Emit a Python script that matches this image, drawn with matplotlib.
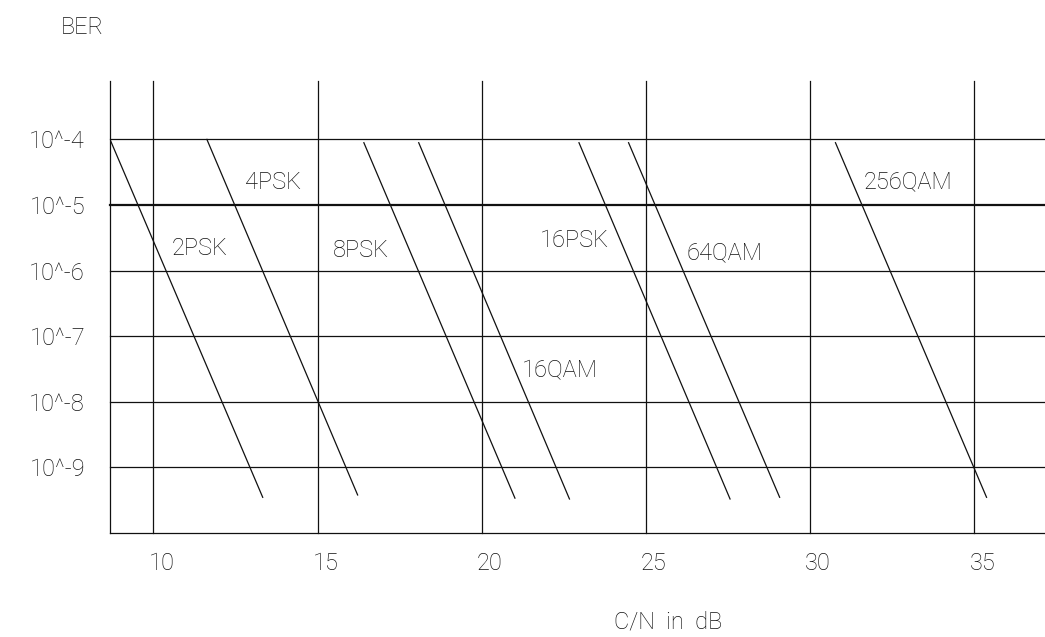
import matplotlib
matplotlib.use("Agg")
import matplotlib.pyplot as plt
import matplotlib.transforms as mtransforms

# BER curves, straight segments (C/N in dB, BER)
schemes = ["2PSK", "4PSK", "8PSK", "16QAM", "16PSK", "64QAM", "256QAM"]
cn_start = [8.68, 11.63, 16.41, 18.08, 22.96, 24.47, 30.77]
cn_end = [13.33, 16.22, 21.01, 22.67, 27.56, 29.07, 35.37]
ber_start = [1e-4, 1e-4, 8.9e-5, 8.9e-5, 8.9e-5, 8.9e-5, 8.9e-5]
ber_end = [3.5e-10, 3.8e-10, 3.4e-10, 3.3e-10, 3.3e-10, 3.5e-10, 3.5e-10]

x_ticks = [10, 15, 20, 25, 30, 35]
x_tick_labels = ["10", "15", "20", "25", "30", "35"]
y_ticks = [1e-4, 1e-5, 1e-6, 1e-7, 1e-8, 1e-9]
y_tick_labels = ["10^-4", "10^-5", "10^-6", "10^-7", "10^-8", "10^-9"]

# where each curve name sits (left edge, vertical centre)
label_pos = {
    "2PSK": (10.57, 10**-5.66),
    "4PSK": (12.80, 10**-4.65),
    "8PSK": (15.47, 10**-5.69),
    "16PSK": (21.77, 10**-5.54),
    "16QAM": (21.22, 10**-7.52),
    "64QAM": (26.24, 10**-5.73),
    "256QAM": (31.63, 10**-4.65),
}

plt.rcParams["font.family"] = ["Roboto", "DejaVu Sans"]
plt.rcParams["font.weight"] = "light"
ink = "#111111"
fs = 17

fig = plt.figure(figsize=(10.45, 6.37), dpi=100)
ax = fig.add_axes([110 / 1045, 1 - 533 / 637, 1 - 110 / 1045, (533 - 81) / 637])
ax.set_yscale("log")
ax.set_xlim(8.68, 37.15)
ax.set_ylim(1e-10, 10**-3.11)
for s in ax.spines.values():
    s.set_visible(False)

# grid, drawn like the original CAD sheet
for x in [8.68] + x_ticks:
    ax.axvline(x, color=ink, lw=0.9, clip_on=False)
for y in y_ticks + [1e-10]:
    lw = 1.6 if y == 1e-5 else 0.9
    ax.axhline(y, color=ink, lw=lw, clip_on=False)

for name, x0, x1, y0, y1 in zip(schemes, cn_start, cn_end, ber_start, ber_end):
    ax.plot([x0, x1], [y0, y1], color=ink, lw=0.9)
    lx, ly = label_pos[name]
    ax.text(lx, ly, name, fontsize=fs, color=ink, ha="left", va="center")

ax.minorticks_off()
ax.set_xticks(x_ticks, x_tick_labels)
ax.set_yticks(y_ticks, y_tick_labels)
ax.tick_params(axis="both", length=0, labelsize=fs, colors=ink)
ax.tick_params(axis="x", pad=14)
ax.tick_params(axis="y", pad=18)
shift = mtransforms.ScaledTranslation(8 / 100, 0, fig.dpi_scale_trans)
for lbl in ax.get_xticklabels():
    lbl.set_transform(lbl.get_transform() + shift)

fig.text(82 / 1045, 1 - 27 / 637, "BER", fontsize=fs, color=ink, ha="center", va="center")
fig.text(668 / 1045, 1 - 622 / 637, "C/N  in  dB", fontsize=fs, color=ink, ha="center", va="center")

fig.savefig("out.png", dpi=100, facecolor="white")
